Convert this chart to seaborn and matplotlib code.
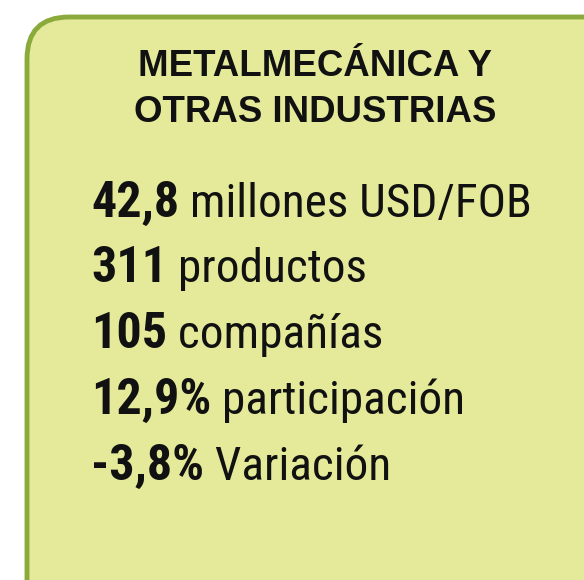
import matplotlib
matplotlib.use("Agg")
import matplotlib.pyplot as plt
from matplotlib.patches import FancyBboxPatch
import seaborn as sns

title_lines = ["METALMECÁNICA Y", "OTRAS INDUSTRIAS"]
bold_values = ["42,8", "311", "105", "12,9%", "-3,8%"]
labels = ["millones USD/FOB", "productos", "compañías", "participación", "Variación"]

sns.set_theme(style="white")
plt.rcParams["font.family"] = ["Roboto Condensed", "Liberation Sans", "DejaVu Sans"]

W, H = 584, 580
fig = plt.figure(figsize=(W / 100, H / 100), dpi=100)
fig.patch.set_facecolor("white")
ax = fig.add_axes([0, 0, 1, 1])
ax.set_xlim(0, W)
ax.set_ylim(H, 0)
ax.axis("off")

box = FancyBboxPatch((27, 17), 640, 640,
                     boxstyle="round,pad=0,rounding_size=42",
                     facecolor="#E4EA99", edgecolor="#8BAA3C", linewidth=3.5)
ax.add_patch(box)

title_y = [76, 122]
for t, y in zip(title_lines, title_y):
    ax.text(315, y, t, ha="center", va="baseline", fontsize=26.4,
            fontweight="bold", family=["Liberation Sans", "DejaVu Sans"], color="#111111")

body_y = [217, 282, 348, 414, 480]
fig.canvas.draw()
renderer = fig.canvas.get_renderer()
inv = ax.transData.inverted()
for b, lab, y in zip(bold_values, labels, body_y):
    t = ax.text(91, y, b, ha="left", va="baseline", fontsize=36,
                fontweight="bold", color="#111111")
    ext = t.get_window_extent(renderer=renderer)
    x1 = inv.transform((ext.x1, 0))[0]
    ax.text(x1, y, " " + lab, ha="left", va="baseline", fontsize=34,
            color="#111111")

fig.savefig("out.png", dpi=100, facecolor="white")
